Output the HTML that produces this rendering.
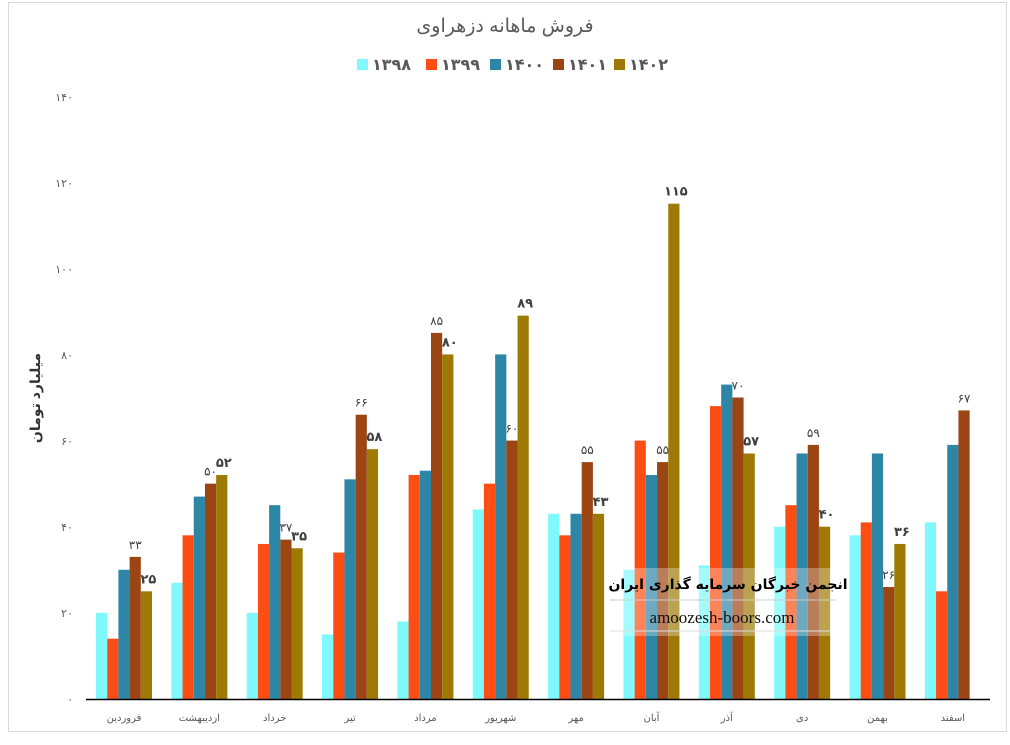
<!DOCTYPE html>
<html><head><meta charset="utf-8"><style>
body{margin:0;background:#fff;width:1010px;height:740px;overflow:hidden}
svg text{font-family:"Liberation Sans","DejaVu Sans",sans-serif}
</style></head><body>
<svg width="1010" height="740" xmlns="http://www.w3.org/2000/svg">
<rect x="8.5" y="2.5" width="998" height="729" fill="#fff" stroke="#d9d9d9"/>
<text x="505" y="32" text-anchor="middle" font-size="19" fill="#595959">فروش ماهانه دزهراوی</text>
<g font-size="16" font-weight="bold" fill="#595959">
<rect x="357" y="59" width="11" height="11" fill="#7ff9fb"/><text x="372" y="70">۱۳۹۸</text>
<rect x="426" y="59" width="11" height="11" fill="#fc4e14"/><text x="441" y="70">۱۳۹۹</text>
<rect x="490" y="59" width="11" height="11" fill="#2e86a6"/><text x="505" y="70">۱۴۰۰</text>
<rect x="553" y="59" width="11" height="11" fill="#9c4514"/><text x="568" y="70">۱۴۰۱</text>
<rect x="614" y="59" width="11" height="11" fill="#9e7a05"/><text x="629" y="70">۱۴۰۲</text>
</g>
<g font-size="11" fill="#595959" text-anchor="end">
<text x="73" y="703">۰</text><text x="73" y="617">۲۰</text><text x="73" y="531">۴۰</text><text x="73" y="445">۶۰</text><text x="73" y="359">۸۰</text><text x="73" y="273">۱۰۰</text><text x="73" y="187">۱۲۰</text><text x="73" y="101">۱۴۰</text>
</g>
<text transform="translate(40,398) rotate(-90)" text-anchor="middle" font-size="14" font-weight="bold" fill="#333">میلیارد تومان</text>
<g id="bars"></g>
<line x1="86" y1="699.5" x2="990" y2="699.5" stroke="#000" stroke-width="1.5"/>
<g id="cats" font-size="10" fill="#595959" text-anchor="middle"></g>
<g id="lbls" fill="#404040" text-anchor="middle"></g>
<rect x="605" y="568" width="235" height="68" fill="#fff" opacity="0.3"/>
<text x="728" y="589" text-anchor="middle" font-size="14" font-weight="bold" fill="#000" style="font-family:'DejaVu Sans',sans-serif">انجمن خبرگان سرمایه گذاری ایران</text>
<line x1="610" y1="600" x2="836" y2="600" stroke="#ccc"/>
<text x="722" y="623" text-anchor="middle" font-size="17" fill="#111" style="font-family:'Liberation Serif',serif">amoozesh-boors.com</text>
<line x1="610" y1="631" x2="830" y2="631" stroke="#ddd"/>
</svg>
<script>
const d=[[20,14,30,33,25],[27,38,47,50,52],[20,36,45,37,35],[15,34,51,66,58],[18,52,53,85,80],[44,50,80,60,89],[43,38,43,55,43],[30,60,52,55,115],[31,68,73,70,57],[40,45,57,59,40],[38,41,57,26,36],[41,25,59,67,null]];
const cats=["فروردین","اردیبهشت","خرداد","تیر","مرداد","شهریور","مهر","آبان","آذر","دی","بهمن","اسفند"];
const cols=["#7ff9fb","#fc4e14","#2e86a6","#9c4514","#9e7a05"];
const pd=["۰","۱","۲","۳","۴","۵","۶","۷","۸","۹"];
const fa=n=>String(n).replace(/\d/g,c=>pd[c]);
const ns="http://www.w3.org/2000/svg";
const B=document.getElementById("bars"),C=document.getElementById("cats"),L=document.getElementById("lbls");
const sc=603/140,gw=75.35;
function t(p,x,y,s,txt,b){const e=document.createElementNS(ns,"text");e.setAttribute("x",x);e.setAttribute("y",y);e.setAttribute("font-size",s);if(b)e.setAttribute("font-weight","bold");e.textContent=txt;p.appendChild(e);}
d.forEach((g,i)=>{const x0=86+gw*i+10;
 g.forEach((v,j)=>{if(v==null)return;const r=document.createElementNS(ns,"rect");r.setAttribute("x",x0+j*11.2);r.setAttribute("width",11.2);r.setAttribute("y",699-v*sc);r.setAttribute("height",v*sc);r.setAttribute("fill",cols[j]);B.appendChild(r);});
 t(C,x0+28,721,10,cats[i]);
 const v3=g[3];t(L,x0+3.5*11.2,699-v3*sc-8,12,fa(v3),false);
 if(g[4]!=null)t(L,x0+4.5*11.2+2,699-g[4]*sc-8,13,fa(g[4]),true);
});
</script>
</body></html>
